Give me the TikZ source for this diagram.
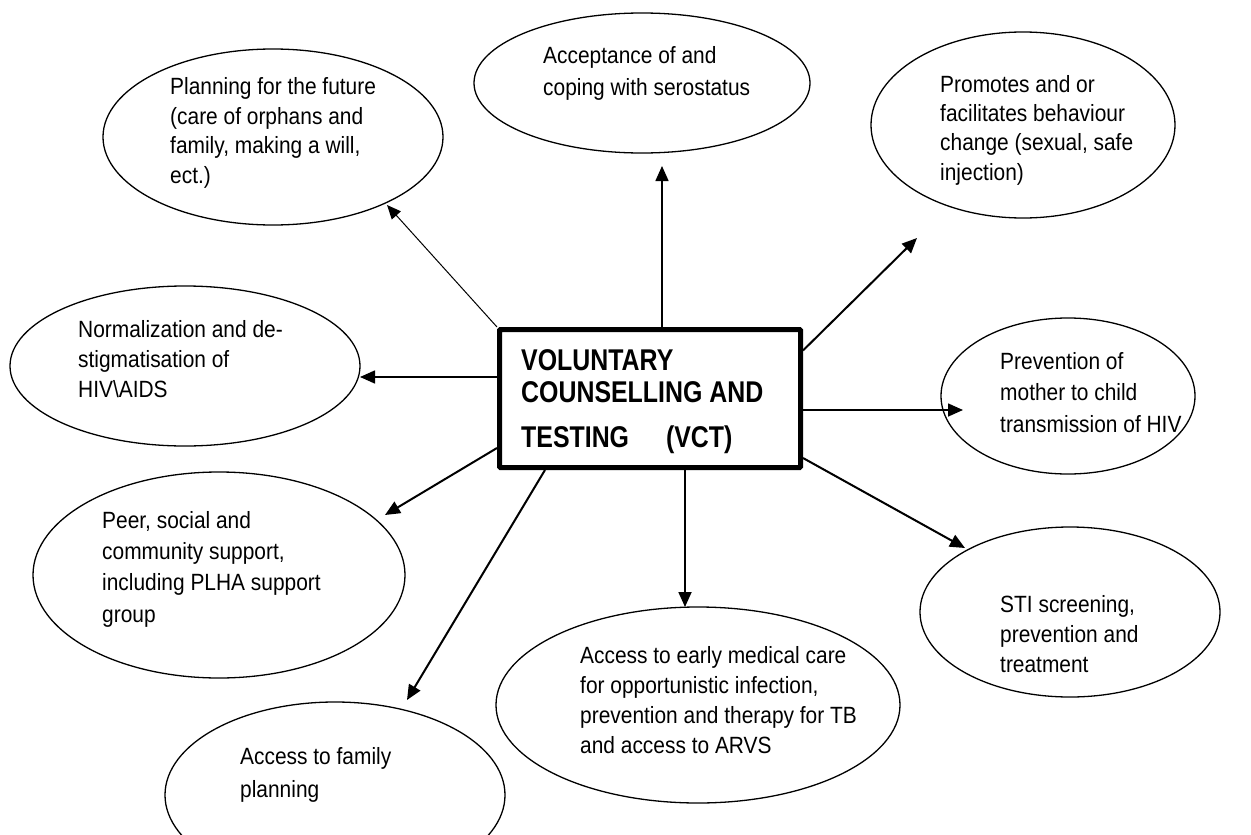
\documentclass[tikz,border=0pt]{standalone}
\usepackage{fontspec}
\setmainfont{Liberation Sans}
\newfontfamily\ellfont[FakeStretch=0.89]{Liberation Sans}
\newfontfamily\vctfont[FakeStretch=0.83]{Liberation Sans Bold}
\usetikzlibrary{arrows.meta,shapes.geometric}
\begin{document}
\begin{tikzpicture}[x=1pt,y=-1pt,
  ell/.style={draw, ellipse, line width=1.3pt, inner sep=0pt},
  lbl/.style={anchor=base west, align=left, inner sep=0pt, font=\ellfont\fontsize{23.5}{30}\selectfont},
  arr/.style={-{Triangle[length=15pt,width=13pt]}, line width=1.6pt},
  thinarr/.style={-{Triangle[length=14pt,width=12pt]}, line width=1pt},
  boxstyle/.style={draw, line width=5pt, rounded corners=1pt, minimum width=301pt, minimum height=138pt, inner sep=0pt},
]
\useasboundingbox (0,0) rectangle (1251,835);

% central box
\node[boxstyle] (vct) at (650,398.5) {};
\node[anchor=base west, align=left, inner sep=0pt, font=\vctfont\fontsize{30}{32}\selectfont] (vcttext) at (521,447)
  {VOLUNTARY\\COUNSELLING AND\\[13pt]TESTING\hspace{37pt}(VCT)};

% ellipses (text anchors are at the baseline of the last line)
\node[ell, minimum width=340pt, minimum height=176pt] (plan) at (273,137) {};
\node[lbl, font=\ellfont\fontsize{23.5}{29.5}\selectfont] (plantext) at (170,183) {Planning for the future\\(care of orphans and\\family, making a will,\\ect.)};

\node[ell, minimum width=336pt, minimum height=140pt] (accept) at (642,83) {};
\node[lbl, font=\ellfont\fontsize{23.5}{32}\selectfont] (accepttext) at (543,95) {Acceptance of and\\coping with serostatus};

\node[ell, minimum width=304pt, minimum height=186pt] (promote) at (1023,125) {};
\node[lbl, font=\ellfont\fontsize{23.5}{29.3}\selectfont] (promotetext) at (940,180) {Promotes and or\\facilitates behaviour\\change (sexual, safe\\injection)};

\node[ell, minimum width=350pt, minimum height=160pt] (normal) at (185,366) {};
\node[lbl] (normaltext) at (78,397) {Normalization and de-\\stigmatisation of\\HIV\textbackslash AIDS};

\node[ell, minimum width=254pt, minimum height=156pt] (prevent) at (1068,396) {};
\node[lbl, font=\ellfont\fontsize{23.5}{31.5}\selectfont] (preventtext) at (1000,432) {Prevention of\\mother to child\\transmission of HIV};

\node[ell, minimum width=372pt, minimum height=206pt] (peer) at (219,575) {};
\node[lbl, font=\ellfont\fontsize{23.5}{31.3}\selectfont] (peertext) at (102,622) {Peer, social and\\community support,\\including PLHA support\\group};

\node[ell, minimum width=300pt, minimum height=170pt] (sti) at (1070,612) {};
\node[lbl] (stitext) at (1000,672) {STI screening,\\prevention and\\treatment};

\node[ell, minimum width=404pt, minimum height=196pt] (early) at (698,705) {};
\node[lbl] (earlytext) at (580,753) {Access to early medical care\\for opportunistic infection,\\prevention and therapy for TB\\and access to ARVS};

\node[ell, minimum width=340pt, minimum height=186pt] (family) at (335,795) {};
\node[lbl, font=\ellfont\fontsize{23.5}{33}\selectfont] (familytext) at (240,797) {Access to family\\planning};

% arrow end points
\coordinate (t1) at (387,205);
\coordinate (t2) at (662,166);
\coordinate (t3) at (917,238);
\coordinate (t4) at (360,377);
\coordinate (t5) at (963,410);
\coordinate (t6) at (965,548);
\coordinate (t7) at (385,515);
\coordinate (t8) at (407,700);
\coordinate (t9) at (685,607);

% connectors
\draw[thinarr] (vct.north west) -- (t1);
\draw[arr] ([xshift=12pt]vct.north) -- (t2);
\draw[arr, line width=2pt] ([yshift=-23.5pt]vct.north east) -- (t3);
\draw[arr] ([yshift=21.5pt]vct.west) -- (t4);
\draw[arr] ([yshift=-11.5pt]vct.east) -- (t5);
\draw[arr, line width=2pt] ([yshift=-59.5pt]vct.east) -- (t6);
\draw[arr, line width=2pt] ([yshift=-49.5pt]vct.west) -- (t7);
\draw[arr, line width=2pt] ([xshift=48pt]vct.south west) -- (t8);
\draw[arr, line width=1.8pt] ([xshift=35pt]vct.south) -- (t9);
\end{tikzpicture}
\end{document}
